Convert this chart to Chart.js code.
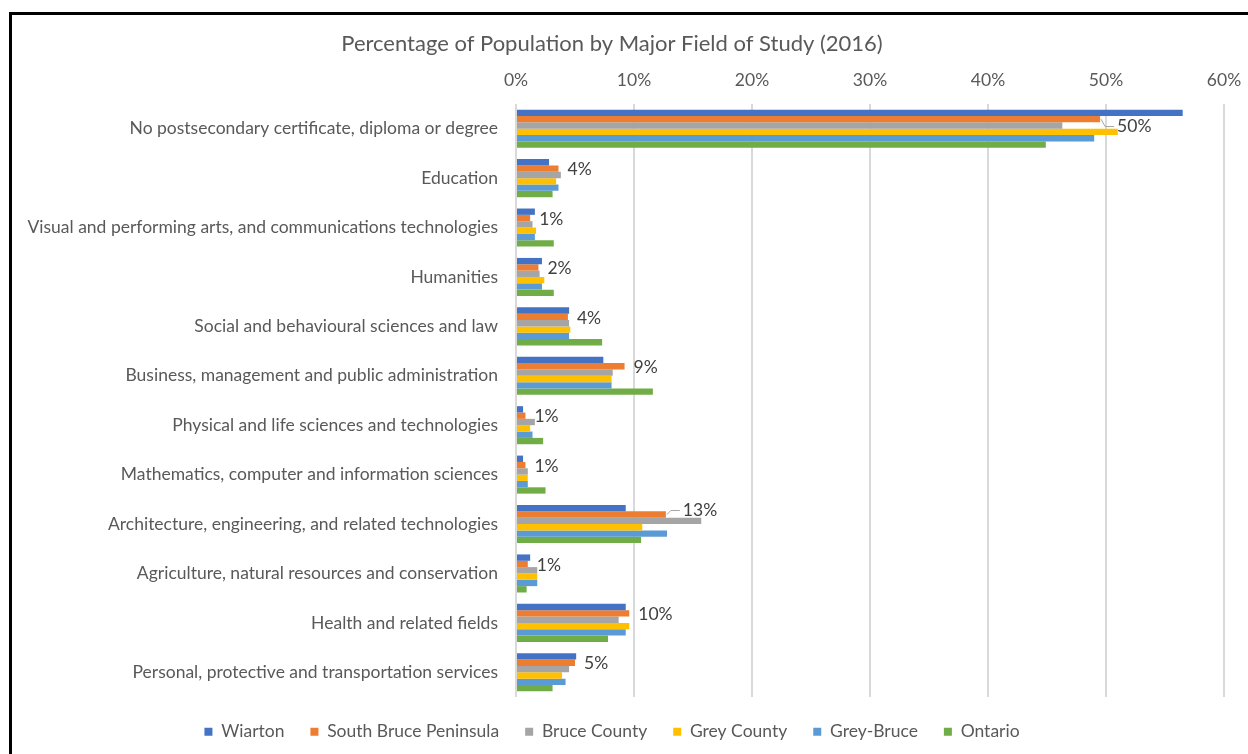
<!DOCTYPE html>
<html>
<head>
<meta charset="utf-8">
<title>Percentage of Population by Major Field of Study (2016)</title>
<script src="https://cdn.jsdelivr.net/npm/chart.js@4.4.1/dist/chart.umd.min.js"></script>
<style>
  html, body { margin: 0; padding: 0; background: #fff; overflow: hidden; }
  #wrap { position: relative; width: 1248px; height: 754px; }
  #frame { position: absolute; left: 9px; top: 12px; width: 1300px; height: 800px;
           border-left: 3px solid #000; border-top: 3px solid #000; }
  #chart { position: absolute; left: 0; top: 0; }
</style>
</head>
<body>
<div id="wrap">
  <div id="frame"></div>
  <canvas id="chart" width="1248" height="754"></canvas>
</div>
<script>
// Campos de estudo (categorias)
const fields = [
  'No postsecondary certificate, diploma or degree',
  'Education',
  'Visual and performing arts, and communications technologies',
  'Humanities',
  'Social and behavioural sciences and law',
  'Business, management and public administration',
  'Physical and life sciences and technologies',
  'Mathematics, computer and information sciences',
  'Architecture, engineering, and related technologies',
  'Agriculture, natural resources and conservation',
  'Health and related fields',
  'Personal, protective and transportation services'
];

// Percentuais por região (%)
const wiarton        = [56.5, 2.8, 1.6, 2.2, 4.5, 7.4, 0.6, 0.6, 9.3, 1.2, 9.3, 5.1];
const southBruce     = [49.5, 3.6, 1.2, 1.9, 4.4, 9.2, 0.8, 0.8, 12.7, 1.0, 9.6, 5.0];
const bruceCounty    = [46.3, 3.8, 1.4, 2.0, 4.5, 8.2, 1.6, 1.0, 15.7, 1.8, 8.7, 4.5];
const greyCounty     = [51.0, 3.4, 1.7, 2.4, 4.6, 8.1, 1.2, 1.0, 10.7, 1.8, 9.6, 3.9];
const greyBruce      = [49.0, 3.6, 1.6, 2.2, 4.5, 8.1, 1.4, 1.0, 12.8, 1.8, 9.3, 4.2];
const ontario        = [44.9, 3.1, 3.2, 3.2, 7.3, 11.6, 2.3, 2.5, 10.6, 0.9, 7.8, 3.1];

const xTicks = [0, 10, 20, 30, 40, 50, 60];

const FONT = 'Lato, "Open Sans", sans-serif';
const TEXT = '#595959';

// Rótulos de valor da série South Bruce Peninsula
const valueLabels = {
  id: 'valueLabels',
  afterDatasetsDraw(chart) {
    const ctx = chart.ctx;
    const meta = chart.getDatasetMeta(1);
    const yellow = chart.getDatasetMeta(3).data;
    ctx.save();
    ctx.font = '17.5px ' + FONT;
    ctx.fillStyle = '#404040';
    ctx.textBaseline = 'middle';
    ctx.textAlign = 'left';
    meta.data.forEach((bar, i) => {
      const v = southBruce[i];
      const covered = bruceCounty[i] - v > 1 || greyCounty[i] - v > 1;
      let x = bar.x + 9;
      let y = bar.y + 1;
      if (covered) {
        x = bar.x + 17;
        const ly = greyCounty[i] > bruceCounty[i] ? (bar.y + yellow[i].y) / 2 + 1 : bar.y - 4;
        ctx.strokeStyle = '#a6a6a6';
        ctx.lineWidth = 1;
        ctx.beginPath();
        ctx.moveTo(bar.x + 1, bar.y);
        ctx.lineTo(bar.x + 5, ly);
        ctx.lineTo(x - 3, ly);
        ctx.stroke();
        y = ly;
      }
      ctx.fillText(Math.round(v) + '%', x, y);
    });
    ctx.restore();
  }
};

const ctx = document.getElementById('chart').getContext('2d');
const chart = new Chart(ctx, {
  type: 'bar',
  data: {
    labels: fields,
    datasets: [
      { label: 'Wiarton', data: wiarton, backgroundColor: '#4472C4' },
      { label: 'South Bruce Peninsula', data: southBruce, backgroundColor: '#ED7D31' },
      { label: 'Bruce County', data: bruceCounty, backgroundColor: '#A5A5A5' },
      { label: 'Grey County', data: greyCounty, backgroundColor: '#FFC000' },
      { label: 'Grey-Bruce', data: greyBruce, backgroundColor: '#5B9BD5' },
      { label: 'Ontario', data: ontario, backgroundColor: '#70AD47' }
    ]
  },
  options: {
    indexAxis: 'y',
    responsive: false,
    animation: false,
    datasets: {
      bar: { barPercentage: 1, categoryPercentage: 0.77, borderWidth: 0 }
    },
    layout: { padding: { top: 12, right: 24, bottom: 3.5, left: 0 } },
    plugins: {
      title: {
        display: true,
        text: 'Percentage of Population by Major Field of Study (2016)',
        color: TEXT,
        font: { family: FONT, size: 22, weight: 'normal' },
        padding: { top: 18.8, bottom: 6.8 }
      },
      legend: {
        position: 'bottom',
        labels: {
          color: TEXT,
          font: { family: FONT, size: 17.5 },
          boxWidth: 8,
          boxHeight: 8,
          padding: 26
        }
      },
      tooltip: { enabled: false }
    },
    scales: {
      x: {
        position: 'top',
        min: 0,
        max: 60,
        afterFit(scale) {
          scale.height = 40;
          scale.paddingLeft = 0;
          scale.paddingRight = 0;
        },
        afterBuildTicks(scale) { scale.ticks = xTicks.map(v => ({ value: v })); },
        ticks: {
          color: TEXT,
          font: { family: FONT, size: 17.5 },
          padding: 13.5,
          callback: v => v + '%'
        },
        grid: { color: '#d9d9d9', lineWidth: 2, drawTicks: false },
        border: { display: false }
      },
      y: {
        afterFit(scale) { scale.width = 516; },
        ticks: {
          color: TEXT,
          font: { family: FONT, size: 17.5 },
          padding: 18
        },
        grid: { display: false, drawTicks: false },
        border: { display: false }
      }
    }
  },
  plugins: [valueLabels]
});
</script>
</body>
</html>
